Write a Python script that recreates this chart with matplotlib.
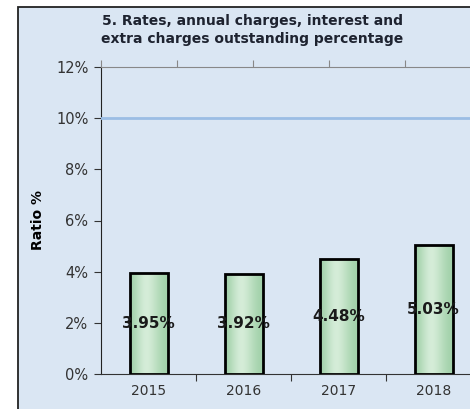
import numpy as np
import matplotlib as mpl
mpl.use("Agg")
import matplotlib.pyplot as plt
from matplotlib.patches import Rectangle

years = ["2015", "2016", "2017", "2018"]
ratios = [3.95, 3.92, 4.48, 5.03]
limit_line = [10, 10, 10, 10, 10, 10]
yticks = [0, 2, 4, 6, 8, 10, 12]

mpl.rcParams.update({"font.family": "DejaVu Sans"})

W, H = 470, 409
fig = plt.figure(figsize=(W / 100, H / 100), dpi=100)
fig.patch.set_facecolor("white")

# chart area (blue background with dark border, cut off at right/bottom)
fig.patches.append(Rectangle((18 / W, -0.05), 1.1, (H - 7) / H + 0.05,
                             transform=fig.transFigure, fc="#dae6f3",
                             ec="#222222", lw=1.3, zorder=-5))

ax = fig.add_axes([101 / W, 35 / H, 380 / W, 307 / H])
ax.set_facecolor("none")
x = np.arange(len(years))
bw = 0.4
bars = ax.bar(x, ratios, bw, color="none", ec="black", lw=2, zorder=4)

# horizontal green gradient inside bars
grad = np.array([[0.0, 0.4, 0.8, 1.0, 0.8, 0.5, 0.2, 0.0]])
cmap = mpl.colors.LinearSegmentedColormap.from_list("g", ["#a3d2ab", "#d8eedb"])
for b in bars:
    im = ax.imshow(grad, cmap=cmap, aspect="auto", interpolation="bicubic",
                   extent=(b.get_x(), b.get_x() + b.get_width(), 0, b.get_height()),
                   zorder=3)
    im.set_clip_path(b)

for xi, v in zip(x, ratios):
    ax.text(xi, v / 2, f"{v:.2f}%", ha="center", va="center", fontsize=11,
            fontweight="bold", color="#1a1a1a", zorder=5)

ax.set_xlim(-0.5, len(years) - 0.5)
ax.set_ylim(0, 12)
ax.set_yticks(yticks)
ax.set_yticklabels([f"{t}%" for t in yticks], fontsize=10.5, color="#333333")
ax.set_xticks(x[:-1] + 0.5)
ax.set_xticklabels([])
ax.set_xticks(x, minor=True)
ax.set_xticklabels(years, minor=True, fontsize=10, color="#333333")
ax.tick_params(axis="x", which="minor", length=0, pad=7)
ax.tick_params(axis="x", which="major", length=5, color="#333333")
ax.tick_params(axis="y", length=5, color="#333333", pad=4)
for s in ("top", "right"):
    ax.spines[s].set_visible(False)
ax.spines["left"].set_color("#222222")
ax.spines["bottom"].set_color("#333333")
ax.set_ylabel("Ratio %", fontsize=10, fontweight="bold", labelpad=8)

# secondary axis carrying the 10% line
ax2 = ax.twiny()
ax2.set_xlim(0, len(limit_line) - 1)
ax2.plot(range(len(limit_line)), limit_line, color="#9bbde4", lw=2, zorder=2)
ax2.set_ylim(0, 12)
ax2.set_xticks(range(len(limit_line)))
ax2.set_xticklabels([])
ax2.tick_params(axis="x", length=5, color="#888888")
for s in ("left", "right", "bottom"):
    ax2.spines[s].set_visible(False)
ax2.spines["top"].set_color("#888888")

fig.text(252 / W, 1 - 30 / H,
         "5. Rates, annual charges, interest and\nextra charges outstanding percentage",
         ha="center", va="center", fontsize=10, fontweight="bold",
         color="#1e2330", linespacing=1.3)

fig.savefig("out.png", dpi=100)
